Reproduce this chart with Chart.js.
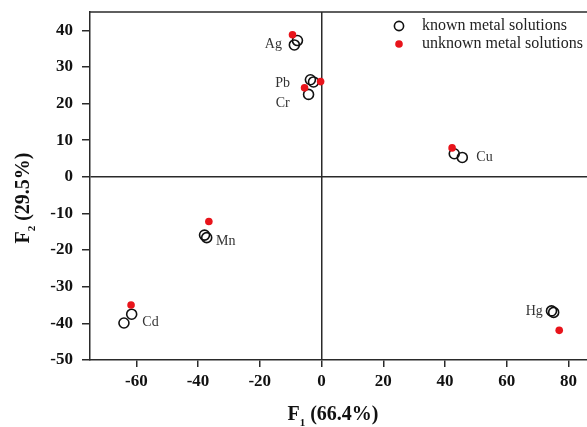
<!DOCTYPE html>
<html>
<head>
<meta charset="utf-8">
<script src="https://cdn.jsdelivr.net/npm/chart.js@4.4.1/dist/chart.umd.min.js"></script>
<style>
html,body{margin:0;padding:0;background:#fff;}
canvas{display:block;}
</style>
</head>
<body>
<canvas id="c" width="587" height="427"></canvas>
<script>
// ---- data ----
const knownX = [-8.8, -7.8, -3.6, -2.6, -4.2, 43.0, 45.6, -37.9, -37.2, -61.5, -64.0, 74.5, 75.2];
const knownY = [36.0, 37.2, 26.5, 25.9, 22.5, 6.3, 5.3, -15.9, -16.6, -37.5, -39.9, -36.6, -37.0];
const unknownX = [-9.4, -0.3, -5.5, 42.3, -36.5, -61.7, 77.0];
const unknownY = [38.8, 26.0, 24.3, 7.9, -12.2, -35.0, -41.9];
const metals = ['Ag', 'Pb', 'Cr', 'Cu', 'Mn', 'Cd', 'Hg'];
const labelX = [-15.6, -12.6, -12.6, 52.8, -31.0, -55.4, 68.9];
const labelY = [36.1, 25.6, 20.0, 5.4, -17.5, -39.6, -36.6];
const xTicks = [-60, -40, -20, 0, 20, 40, 60, 80];
const yTicks = [-50, -40, -30, -20, -10, 0, 10, 20, 30, 40];
const seriesNames = ['known metal solutions', 'unknown metal solutions'];
const xTitle = ['F', '1', ' (66.4%)'];
const yTitle = ['F', '2', ' (29.5%)'];

const AX = '#2a2a2a';
const RED = '#e8141b';
const SERIF = '"Liberation Serif", "Times New Roman", serif';

function titleDraw(ctx, parts, size) {
  ctx.font = 'bold ' + size + 'px ' + SERIF;
  const w1 = ctx.measureText(parts[0]).width;
  const w3 = ctx.measureText(parts[2]).width;
  ctx.font = 'bold ' + Math.round(size * 0.55) + 'px ' + SERIF;
  const w2 = ctx.measureText(parts[1]).width;
  const W = w1 + w2 + w3;
  let x = -W / 2;
  ctx.textAlign = 'left';
  ctx.textBaseline = 'alphabetic';
  ctx.fillStyle = '#111';
  ctx.font = 'bold ' + size + 'px ' + SERIF;
  ctx.fillText(parts[0], x, size * 0.35);
  x += w1;
  ctx.font = 'bold ' + Math.round(size * 0.55) + 'px ' + SERIF;
  ctx.fillText(parts[1], x, size * 0.35 + size * 0.3);
  x += w2;
  ctx.font = 'bold ' + size + 'px ' + SERIF;
  ctx.fillText(parts[2], x, size * 0.35);
}

const decor = {
  id: 'decor',
  afterDraw(chart) {
    const ctx = chart.ctx;
    const a = chart.chartArea;
    const xs = chart.scales.x, ys = chart.scales.y;
    ctx.save();
    // top border
    ctx.strokeStyle = AX;
    ctx.lineWidth = 1.5;
    ctx.beginPath();
    ctx.moveTo(a.left, a.top);
    ctx.lineTo(a.right, a.top);
    ctx.stroke();
    // metal labels
    ctx.font = '14px ' + SERIF;
    ctx.fillStyle = '#333';
    ctx.textAlign = 'center';
    ctx.textBaseline = 'middle';
    metals.forEach((m, i) => {
      ctx.fillText(m, xs.getPixelForValue(labelX[i]), ys.getPixelForValue(labelY[i]));
    });
    // legend
    const lx = 399, ly1 = 26, ly2 = 44;
    ctx.beginPath();
    ctx.arc(lx, ly1, 4.6, 0, Math.PI * 2);
    ctx.lineWidth = 1.6;
    ctx.strokeStyle = '#111';
    ctx.stroke();
    ctx.beginPath();
    ctx.arc(lx, ly2, 3.8, 0, Math.PI * 2);
    ctx.fillStyle = RED;
    ctx.fill();
    ctx.font = '16px ' + SERIF;
    ctx.fillStyle = '#222';
    ctx.textAlign = 'left';
    ctx.textBaseline = 'middle';
    ctx.fillText(seriesNames[0], 422, ly1);
    ctx.fillText(seriesNames[1], 422, ly2);
    // axis titles
    ctx.save();
    ctx.translate(333, 413);
    titleDraw(ctx, xTitle, 20);
    ctx.restore();
    ctx.save();
    ctx.translate(22, 198);
    ctx.rotate(-Math.PI / 2);
    titleDraw(ctx, yTitle, 20);
    ctx.restore();
    ctx.restore();
  }
};

const zeroGrid = (c) => (c.tick && c.tick.value === 0) ? AX : 'rgba(0,0,0,0)';
const noPad = (s) => { s.paddingTop = 0; s.paddingBottom = 0; s.paddingLeft = 0; s.paddingRight = 0; };

new Chart(document.getElementById('c'), {
  type: 'scatter',
  data: {
    datasets: [
      {
        label: seriesNames[0],
        data: knownX.map((x, i) => ({ x: x, y: knownY[i] })),
        pointStyle: 'circle',
        pointRadius: 5,
        pointBorderWidth: 1.6,
        pointBorderColor: '#111',
        pointBackgroundColor: 'rgba(0,0,0,0)',
        order: 1
      },
      {
        label: seriesNames[1],
        data: unknownX.map((x, i) => ({ x: x, y: unknownY[i] })),
        pointStyle: 'circle',
        pointRadius: 3.8,
        pointBorderWidth: 0,
        pointBorderColor: RED,
        pointBackgroundColor: RED,
        order: 0
      }
    ]
  },
  options: {
    responsive: false,
    animation: false,
    devicePixelRatio: 1,
    layout: { autoPadding: false, padding: { left: 0, top: 12, right: 0, bottom: 0 } },
    plugins: { legend: { display: false }, tooltip: { enabled: false } },
    scales: {
      x: {
        type: 'linear',
        min: -75,
        max: 86,
        afterBuildTicks: (s) => { s.ticks = xTicks.map(v => ({ value: v })); },
        afterFit: (s) => { s.height = 67; noPad(s); },
        ticks: {
          font: { family: SERIF, size: 17, weight: 'bold' },
          color: '#111',
          padding: 4,
          maxRotation: 0,
          autoSkip: false
        },
        grid: {
          color: zeroGrid,
          lineWidth: 1.5,
          drawTicks: true,
          tickLength: 7,
          tickColor: AX,
          tickWidth: 1.5
        },
        border: { display: true, color: AX, width: 1.5 }
      },
      y: {
        type: 'linear',
        min: -50,
        max: 45,
        afterBuildTicks: (s) => { s.ticks = yTicks.map(v => ({ value: v })); },
        afterFit: (s) => { s.width = 90; noPad(s); },
        ticks: {
          font: { family: SERIF, size: 17, weight: 'bold' },
          color: '#111',
          padding: 9,
          autoSkip: false
        },
        grid: {
          color: zeroGrid,
          lineWidth: 1.5,
          drawTicks: true,
          tickLength: 8,
          tickColor: AX,
          tickWidth: 1.5
        },
        border: { display: true, color: AX, width: 1.5 }
      }
    }
  },
  plugins: [decor]
});
</script>
</body>
</html>
